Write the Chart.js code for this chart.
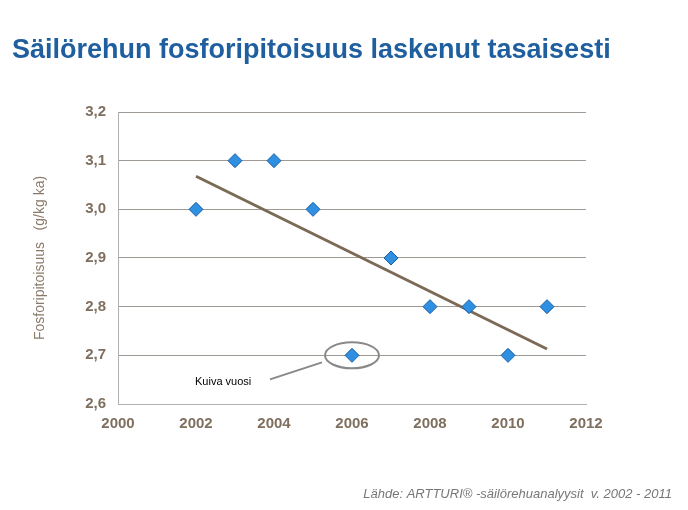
<!DOCTYPE html>
<html><head><meta charset="utf-8">
<script src="https://cdn.jsdelivr.net/npm/chart.js@4"></script>
<style>body{margin:0;background:#fff}#wrap{width:688px;height:510px}</style>
</head><body><div id="wrap"><canvas id="c"></canvas></div>
<script>
// Data
const years = [2002, 2003, 2004, 2005, 2006, 2007, 2008, 2009, 2010, 2011];
const values = [3.0, 3.1, 3.1, 3.0, 2.7, 2.9, 2.8, 2.8, 2.7, 2.8];
const trendYears = [2002, 2011];
const trendValues = [3.068, 2.713];

const labelColor = '#7f6f5f';

const overlay = {
    id: 'overlay',
    afterDraw(chart) {
        const c = chart.ctx, x = chart.scales.x, y = chart.scales.y;
        c.save();
        // title
        c.fillStyle = '#1f5f9f';
        c.font = 'bold 27px "Liberation Sans", Arial';
        c.textBaseline = 'alphabetic';
        c.fillText('Säilörehun fosforipitoisuus laskenut tasaisesti', 12, 58);
        // y axis title
        c.translate(44, 258);
        c.rotate(-Math.PI / 2);
        c.fillStyle = '#8a7a6a';
        c.font = '14px "Liberation Sans", Arial';
        c.textAlign = 'center';
        c.fillText('Fosforipitoisuus   (g/kg ka)', 0, 0);
        c.restore();
        c.save();
        // annotation
        const px = x.getPixelForValue(2006), py = y.getPixelForValue(2.7);
        c.strokeStyle = '#888';
        c.lineWidth = 2;
        c.beginPath();
        c.ellipse(px, py, 27, 13, 0, 0, Math.PI * 2);
        c.stroke();
        c.beginPath();
        c.moveTo(px - 30, py + 7);
        c.lineTo(px - 82, py + 24);
        c.stroke();
        c.fillStyle = '#000';
        c.font = '11px "Liberation Sans", Arial';
        c.fillText('Kuiva vuosi', 195, 385);
        // source
        c.fillStyle = '#777';
        c.font = 'italic 13px "Liberation Sans", Arial';
        c.textAlign = 'right';
        c.fillText('Lähde: ARTTURI® -säilörehuanalyysit  v. 2002 - 2011', 672, 498);
        c.restore();
    }
};

new Chart(document.getElementById('c'), {
    type: 'scatter',
    data: {
        datasets: [
            {
                data: years.map((yr, i) => ({ x: yr, y: values[i] })),
                pointStyle: 'rectRot',
                pointRadius: 7,
                backgroundColor: '#2f8fe0',
                borderColor: '#1a5fa8',
                borderWidth: 1,
                order: 0
            },
            {
                type: 'line',
                data: trendYears.map((yr, i) => ({ x: yr, y: trendValues[i] })),
                borderColor: '#7b6a55',
                borderWidth: 3,
                pointRadius: 0,
                order: 1
            }
        ]
    },
    options: {
        responsive: true,
        maintainAspectRatio: false,
        animation: false,
        layout: { padding: { left: 58, right: 102, top: 112, bottom: 66 } },
        scales: {
            x: {
                type: 'linear', min: 2000, max: 2012,
                afterFit: s => { s.height = 40; },
                ticks: { stepSize: 2, color: labelColor, font: { size: 15, weight: 'bold', family: '"Liberation Sans", Arial' }, callback: v => String(v) },
                grid: { display: false },
                border: { color: '#b0b0b0' }
            },
            y: {
                min: 2.6, max: 3.2,
                afterFit: s => { s.width = 60; },
                ticks: { stepSize: 0.1, color: labelColor, padding: 12, font: { size: 15, weight: 'bold', family: '"Liberation Sans", Arial' }, callback: v => v.toFixed(1).replace('.', ',') },
                grid: { color: '#a09a94', drawTicks: false },
                border: { color: '#b0b0b0' }
            }
        },
        plugins: { legend: { display: false }, tooltip: { enabled: false } }
    },
    plugins: [overlay]
});
</script></body></html>
